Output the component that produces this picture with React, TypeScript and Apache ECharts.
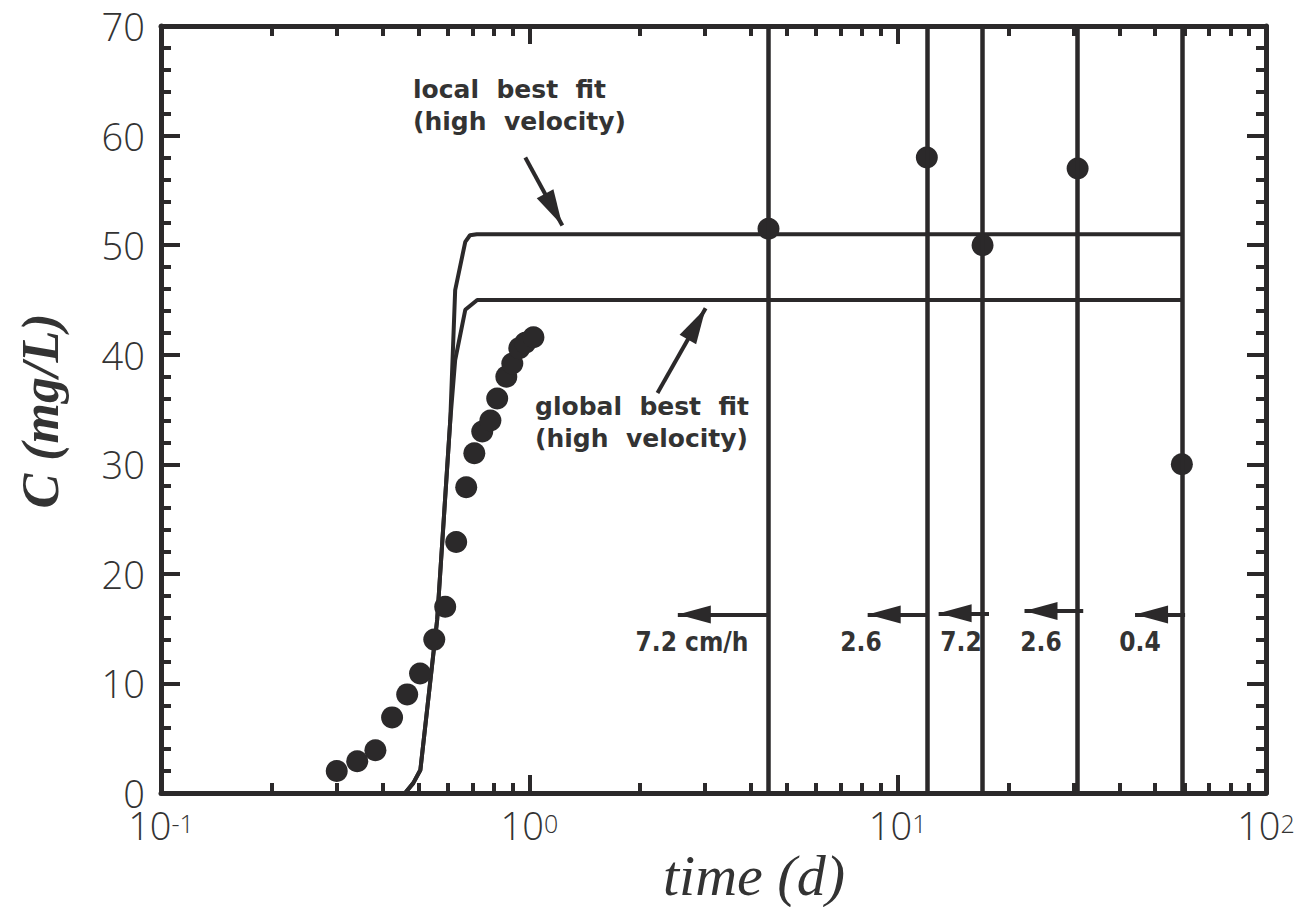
import React, { useEffect, useRef } from "react";
import * as echarts from "echarts";

// ---- data ----
const obsTime = [0.30, 0.341, 0.382, 0.424, 0.466, 0.505, 0.552, 0.591, 0.633, 0.674, 0.709, 0.745, 0.784, 0.818, 0.866, 0.899, 0.939, 0.975, 1.026, 4.46, 12.0, 17.0, 30.8, 59.1];
const obsConc = [2, 2.9, 3.9, 6.9, 9, 10.9, 14, 17, 22.9, 27.9, 31, 33, 34, 36, 38, 39.2, 40.6, 41.1, 41.6, 51.5, 58, 50, 57, 30];

const localTime = [0.1, 0.46, 0.484, 0.506, 0.562, 0.61, 0.629, 0.67, 0.69, 0.72, 59.1];
const localConc = [0, 0, 0.9, 2.1, 15.8, 34, 45.9, 50.3, 50.9, 51, 51];

const globalTime = [0.1, 0.46, 0.484, 0.506, 0.562, 0.61, 0.629, 0.67, 0.722, 59.1];
const globalConc = [0, 0, 0.9, 2.1, 15.8, 34, 39.5, 44.1, 45.0, 45];

const changeTimes = [4.46, 12.0, 17.0, 30.8, 59.1];

const velArrowTip = [2.53, 8.29, 12.92, 22.1, 44.1];
const velArrowEnd = [4.46, 12.0, 17.7, 31.9, 60.3];
const velArrowY = [16.3, 16.3, 16.4, 16.6, 16.3];
const velLabels = ["7.2 cm/h", "2.6", "7.2", "2.6", "0.4"];

const noteArrowFrom = [[0.975, 58.0], [2.228, 36.5]];
const noteArrowTo = [[1.229, 51.8], [3.01, 44.25]];

const xMajorTicks = [0.1, 1, 10, 100];
const xMinorTicks = [0.2, 0.3, 0.4, 0.5, 0.6, 0.7, 0.8, 0.9, 2, 3, 4, 5, 6, 7, 8, 9, 20, 30, 40, 50, 60, 70, 80, 90];

const INK = "#2b292a";
const TXT = "#333333";

export default function App() {
  const ref = useRef<HTMLDivElement>(null);

  useEffect(() => {
    if (!ref.current) return;
    const chart = echarts.init(ref.current, null, { renderer: "svg" });

    const tickFont = { fontFamily: "'Open Sans'", fontWeight: 300, color: TXT };

    const baseX = {
      type: "log",
      logBase: 10,
      min: 0.1,
      max: 100,
      splitLine: { show: false },
      minorSplitLine: { show: false },
    };

    const option: any = {
      animation: false,
      backgroundColor: "#ffffff",
      grid: { left: 161, right: 40, top: 26, bottom: 114 },
      xAxis: [
        {
          ...baseX,
          position: "bottom",
          axisLine: { show: true, lineStyle: { color: INK, width: 5 } },
          axisTick: { show: true, inside: true, length: 18, customValues: xMajorTicks, lineStyle: { color: INK, width: 4 } },
          axisLabel: {
            show: true,
            margin: 17,
            customValues: xMajorTicks,
            formatter: (v: number) => `{b|10}{s|${Math.round(Math.log10(v))}}`,
            rich: {
              b: { ...tickFont, fontSize: 38, lineHeight: 34, verticalAlign: "bottom" },
              s: { ...tickFont, fontSize: 25, lineHeight: 22, verticalAlign: "top" },
            },
          },
        },
        {
          ...baseX,
          position: "bottom",
          axisLine: { show: false },
          axisTick: { show: true, inside: true, length: 10, customValues: xMinorTicks, lineStyle: { color: INK, width: 4 } },
          axisLabel: { show: false },
        },
        {
          ...baseX,
          position: "top",
          axisLine: { show: true, lineStyle: { color: INK, width: 5 } },
          axisTick: { show: true, inside: true, length: 18, customValues: xMajorTicks, lineStyle: { color: INK, width: 4 } },
          axisLabel: { show: false },
        },
        {
          ...baseX,
          position: "top",
          axisLine: { show: false },
          axisTick: { show: true, inside: true, length: 10, customValues: xMinorTicks, lineStyle: { color: INK, width: 4 } },
          axisLabel: { show: false },
        },
      ],
      yAxis: [
        {
          type: "value",
          position: "left",
          min: 0,
          max: 70,
          interval: 10,
          splitLine: { show: false },
          axisLine: { show: true, lineStyle: { color: INK, width: 5 } },
          axisTick: { show: true, inside: true, length: 19, lineStyle: { color: INK, width: 4 } },
          minorTick: { show: true, splitNumber: 5, length: 10, lineStyle: { color: INK, width: 4 } },
          minorSplitLine: { show: false },
          axisLabel: { show: true, margin: 16, fontSize: 38, lineHeight: 24, ...tickFont },
        },
        {
          type: "value",
          position: "right",
          min: 0,
          max: 70,
          interval: 10,
          splitLine: { show: false },
          axisLine: { show: true, lineStyle: { color: INK, width: 5 } },
          axisTick: { show: true, inside: true, length: 19, lineStyle: { color: INK, width: 4 } },
          minorTick: { show: true, splitNumber: 5, length: 10, lineStyle: { color: INK, width: 4 } },
          minorSplitLine: { show: false },
          axisLabel: { show: false },
        },
      ],
      series: [
        {
          name: "local best fit",
          type: "line",
          xAxisIndex: 0,
          yAxisIndex: 0,
          showSymbol: false,
          symbol: "none",
          lineStyle: { color: INK, width: 4 },
          data: localTime.map((t, i) => [t, localConc[i]]),
          z: 3,
        },
        {
          name: "global best fit",
          type: "line",
          xAxisIndex: 0,
          yAxisIndex: 0,
          showSymbol: false,
          symbol: "none",
          lineStyle: { color: INK, width: 4 },
          data: globalTime.map((t, i) => [t, globalConc[i]]),
          z: 3,
        },
        {
          name: "observed",
          type: "scatter",
          xAxisIndex: 0,
          yAxisIndex: 0,
          symbol: "circle",
          symbolSize: 22,
          itemStyle: { color: INK, opacity: 1 },
          data: obsTime.map((t, i) => [t, obsConc[i]]),
          z: 4,
        },
        {
          name: "velocity changes",
          type: "line",
          xAxisIndex: 0,
          yAxisIndex: 0,
          data: [],
          markLine: {
            silent: true,
            symbol: ["none", "none"],
            label: { show: false },
            lineStyle: { color: INK, width: 4.5, type: "solid" },
            data: changeTimes.map((t) => ({ xAxis: t })),
          },
        },
        {
          name: "velocity arrows",
          type: "line",
          xAxisIndex: 0,
          yAxisIndex: 0,
          data: [],
          markLine: {
            silent: true,
            symbol: ["triangle", "none"],
            symbolSize: 20,
            label: { show: false },
            lineStyle: { color: INK, width: 4, type: "solid", opacity: 1 },
            data: velArrowTip.map((t, i) => [
              { coord: [t, velArrowY[i]], symbolSize: [18, 33], symbolOffset: [0, "50%"] },
              { coord: [velArrowEnd[i], velArrowY[i]], symbolSize: [1, 1] },
            ]),
          },
        },
        {
          name: "note arrows",
          type: "line",
          xAxisIndex: 0,
          yAxisIndex: 0,
          data: [],
          markLine: {
            silent: true,
            symbol: ["none", "triangle"],
            symbolSize: 20,
            label: { show: false },
            lineStyle: { color: INK, width: 4, type: "solid", opacity: 1 },
            data: noteArrowFrom.map((p, i) => [
              { coord: p, symbolSize: [1, 1] },
              { coord: noteArrowTo[i], symbolSize: [19, 36], symbolOffset: [0, "50%"] },
            ]),
          },
        },
      ],
    };

    chart.setOption(option);

    const noteFont = "bold 25px 'DejaVu Sans'";
    const velFont = "bold 26px 'DejaVu Sans Condensed'";
    const graphics: any[] = [];

    const velCenters = [692, 861, 961, 1041, 1140];
    velLabels.forEach((t, i) => {
      graphics.push({
        type: "text",
        x: velCenters[i],
        y: 642,
        style: { text: t, font: velFont, fill: TXT, align: "center", verticalAlign: "middle" },
        z: 10,
      });
    });

    graphics.push(
      { type: "text", x: 413, y: 89, style: { text: "local  best  fit", font: noteFont, fill: TXT, align: "left", verticalAlign: "middle" }, z: 10 },
      { type: "text", x: 413, y: 121, style: { text: "(high  velocity)", font: noteFont, fill: TXT, align: "left", verticalAlign: "middle" }, z: 10 },
      { type: "text", x: 535, y: 406, style: { text: "global  best  fit", font: noteFont, fill: TXT, align: "left", verticalAlign: "middle" }, z: 10 },
      { type: "text", x: 535, y: 438, style: { text: "(high  velocity)", font: noteFont, fill: TXT, align: "left", verticalAlign: "middle" }, z: 10 },
      {
        type: "text",
        x: 754,
        y: 875,
        style: { text: "time (d)", font: "italic 58px 'Liberation Serif'", lineHeight: 46, fill: TXT, align: "center", verticalAlign: "middle" },
        z: 10,
      },
      {
        type: "text",
        x: 40,
        y: 411,
        rotation: Math.PI / 2,
        style: { text: "C (mg/L)", font: "italic bold 52px 'Liberation Serif'", fill: TXT, align: "center", verticalAlign: "middle" },
        z: 10,
      }
    );
    chart.setOption({ graphic: graphics });

    return () => chart.dispose();
  }, []);

  return (
    <div
      ref={ref}
      style={{ position: "absolute", left: 0, top: 0, width: 1306, height: 907, background: "#fff" }}
    />
  );
}
